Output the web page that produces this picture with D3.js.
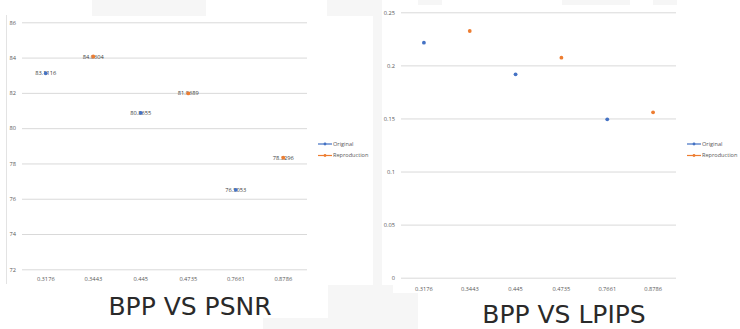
<!DOCTYPE html>
<html>
<head>
<meta charset="utf-8">
<script src="https://cdn.jsdelivr.net/npm/d3@7"></script>
<style>
  html, body { margin: 0; padding: 0; background: #ffffff; }
  svg { display: block; }
</style>
</head>
<body>
<svg id="chart" width="740" height="329"></svg>
<script>
// ---------------- data ----------------
const categories = ["0.3176", "0.3443", "0.445", "0.4735", "0.7661", "0.8786"];
const seriesNames = ["Original", "Reproduction"];
const seriesColors = ["#4472C4", "#ED7D31"];

const psnrOriginal     = [83.1116, null, 80.8655, null, 76.5053, null];
const psnrReproduction = [null, 84.0604, null, 81.9689, null, 78.3296];
const psnrTicks = [72, 74, 76, 78, 80, 82, 84, 86];

const lpipsOriginal     = [0.2214, null, 0.1916, null, 0.1492, null];
const lpipsReproduction = [null, 0.2324, null, 0.2073, null, 0.1558];
const lpipsTicks = [0, 0.05, 0.1, 0.15, 0.2, 0.25];

const titles = ["BPP VS PSNR", "BPP VS LPIPS"];

// ---------------- drawing ----------------
const svg = d3.select("#chart");
const tickFont = "'Open Sans', 'Liberation Sans', sans-serif";

// faint screenshot background patches
const patches = [
  [92, 0, 114, 16], [327, 0, 55, 16], [373, 0, 9, 293],
  [418, 0, 24, 5], [562, 0, 68, 5], [653, 0, 24, 5],
  [328, 285, 65, 44], [263, 318, 65, 11], [370, 293, 48, 36]
];
svg.selectAll("rect.patch").data(patches).join("rect")
  .attr("class", "patch")
  .attr("x", d => d[0]).attr("y", d => d[1])
  .attr("width", d => d[2]).attr("height", d => d[3])
  .attr("fill", "#f6f6f6");

// left chart border line
svg.append("line").attr("x1", 6.5).attr("x2", 6.5).attr("y1", 15).attr("y2", 284)
  .attr("stroke", "#e3e3e3").attr("stroke-width", 1);

function drawChart(cfg) {
  const g = svg.append("g");
  const x = d3.scaleBand().domain(categories).range([cfg.x0, cfg.x1]);
  const y = d3.scaleLinear().domain([cfg.ticks[0], cfg.ticks[cfg.ticks.length - 1]])
    .range([cfg.y0, cfg.y1]);

  // gridlines + y labels
  const yAxis = d3.axisLeft(y).tickValues(cfg.ticks).tickSize(-(cfg.x1 - cfg.x0))
    .tickPadding(cfg.yPad).tickFormat(d => String(d));
  const ya = g.append("g").attr("transform", `translate(${cfg.x0},0)`).call(yAxis);
  ya.select(".domain").remove();
  ya.selectAll(".tick line").attr("stroke", "#d9d9d9").attr("stroke-width", 1);
  ya.selectAll(".tick text").attr("fill", "#595959").attr("font-size", 5.7)
    .attr("font-family", tickFont);

  // x labels
  const xAxis = d3.axisBottom(x).tickSize(0).tickPadding(cfg.xPad);
  const xa = g.append("g").attr("transform", `translate(0,${cfg.y0})`).call(xAxis);
  xa.select(".domain").remove();
  xa.selectAll(".tick text").attr("fill", "#595959").attr("font-size", 5.7)
    .attr("font-family", tickFont);

  // series
  cfg.series.forEach((vals, si) => {
    const pts = vals.map((v, i) => ({ c: categories[i], v })).filter(d => d.v !== null);
    if (cfg.labels) {
      g.selectAll(null).data(pts).join("text")
        .attr("x", d => x(d.c) + x.bandwidth() / 2)
        .attr("y", d => y(d.v))
        .attr("dy", "0.35em")
        .attr("text-anchor", "middle")
        .attr("font-family", tickFont).attr("font-size", 5.7)
        .attr("fill", "#404040")
        .text(d => String(d.v));
    }
    g.selectAll(null).data(pts).join("circle")
      .attr("cx", d => x(d.c) + x.bandwidth() / 2)
      .attr("cy", d => y(d.v))
      .attr("r", 1.9)
      .attr("fill", seriesColors[si]);
  });

  // legend
  seriesNames.forEach((name, i) => {
    const ly = cfg.legY + i * cfg.legGap;
    g.append("line").attr("x1", cfg.legX).attr("x2", cfg.legX + 14)
      .attr("y1", ly).attr("y2", ly)
      .attr("stroke", seriesColors[i]).attr("stroke-width", 1.2);
    g.append("circle").attr("cx", cfg.legX + 7).attr("cy", ly).attr("r", 1.4)
      .attr("fill", seriesColors[i]);
    g.append("text").attr("x", cfg.legX + 15).attr("y", ly).attr("dy", "0.35em")
      .attr("font-family", tickFont).attr("font-size", 5.6).attr("fill", "#595959")
      .text(name);
  });

  // title
  g.append("text").attr("x", cfg.titleX).attr("y", cfg.titleY)
    .attr("text-anchor", "middle")
    .attr("font-family", "'DejaVu Sans', sans-serif").attr("font-size", 25)
    .attr("fill", "#2a2a2a")
    .text(cfg.title);
}

drawChart({
  x0: 22, x1: 307, y0: 269.3, y1: 22.3, ticks: psnrTicks, yPad: 6, xPad: 8,
  series: [psnrOriginal, psnrReproduction], labels: true,
  legX: 318, legY: 144, legGap: 11.5,
  title: titles[0], titleX: 190, titleY: 315
});

drawChart({
  x0: 401, x1: 676, y0: 277.7, y1: 12.3, ticks: lpipsTicks, yPad: 6, xPad: 9,
  series: [lpipsOriginal, lpipsReproduction], labels: false,
  legX: 687, legY: 144, legGap: 11.5,
  title: titles[1], titleX: 564, titleY: 323
});
</script>
</body>
</html>
